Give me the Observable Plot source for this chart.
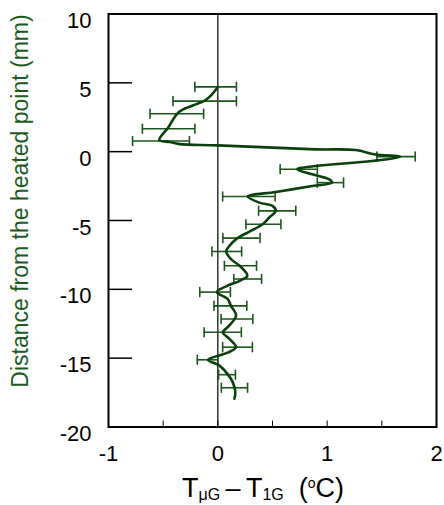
<!DOCTYPE html>
<html>
<head>
<meta charset="utf-8">
<script src="https://cdn.jsdelivr.net/npm/d3@7"></script>
<script src="https://cdn.jsdelivr.net/npm/@observablehq/plot@0.6"></script>
<style>
  html, body { margin: 0; padding: 0; background: white; }
</style>
</head>
<body>
<div id="chart"></div>
<script>
// Profile curve (x: temperature difference in °C, y: distance in mm)
const lineX = [0.0, -0.105, -0.318, -0.373, -0.455, -0.536, -0.44, -0.35, 0.0, 0.895, 1.26, 1.44, 1.667, 1.41, 0.895, 0.727, 0.864, 1.015, 1.045, 0.864, 0.53, 0.273, 0.38, 0.5, 0.53, 0.47, 0.41, 0.29, 0.18, 0.106, 0.076, 0.12, 0.2, 0.27, 0.2, 0.076, -0.01, 0.09, 0.12, 0.167, 0.09, 0.045, 0.106, 0.167, 0.09, -0.09, 0.015, 0.088, 0.136, 0.16, 0.152];
const lineY = [4.7, 3.79, 3.07, 2.75, 1.74, 0.84, 0.70, 0.55, 0.46, 0.17, 0.12, -0.2, -0.36, -0.68, -1.04, -1.28, -1.64, -2.0, -2.25, -2.49, -2.93, -3.26, -3.7, -3.94, -4.3, -4.78, -5.27, -5.8, -6.28, -6.84, -7.25, -7.8, -8.29, -9.01, -9.38, -9.78, -10.2, -10.7, -11.2, -11.9, -12.75, -13.12, -13.6, -14.2, -14.6, -15.12, -15.54, -16.14, -16.74, -17.46, -17.95];

// Error bars: position, centre, half-width
const errY = [4.71, 3.67, 2.75, 1.67, 0.77, -0.36, -1.28, -2.25, -3.26, -4.30, -5.27, -6.28, -7.25, -8.29, -9.25, -10.2, -11.2, -12.15, -13.12, -14.2, -15.12, -16.2, -17.15];
const errX = [-0.02, -0.12, -0.375, -0.45, -0.52, 1.63, 0.74, 1.03, 0.284, 0.543, 0.417, 0.216, 0.082, 0.207, 0.273, -0.025, 0.115, 0.175, 0.045, 0.18, -0.094, 0.084, 0.152];
const errE = [0.19, 0.29, 0.245, 0.24, 0.26, 0.175, 0.17, 0.12, 0.24, 0.17, 0.16, 0.17, 0.136, 0.147, 0.127, 0.14, 0.15, 0.145, 0.17, 0.136, 0.094, 0.077, 0.12];

// Axis ticks
const xTickLabels = [-1, 0, 1, 2];
const xMinorTicks = [-0.5, 0, 0.5, 1, 1.5];
const yTicks = [10, 5, 0, -5, -10, -15, -20];
const yTitle = "Distance from the heated point (mm)";

const lineData = lineX.map((x, i) => ({x, y: lineY[i]}));
const errData = errY.map((y, i) => ({y, x: errX[i], e: errE[i]}));

const lineColor = "#0b3f0b";
const barColor = "#1d561d";
const fmt = d => String(d);

const cap = {draw(context, l) { context.moveTo(0, 0); context.lineTo(0, -l); }};

const plot = Plot.plot({
  width: 444,
  height: 505,
  marginLeft: 108,
  marginRight: 8,
  marginTop: 13.5,
  marginBottom: 78.5,
  x: {domain: [-1, 2]},
  y: {domain: [-20, 10]},
  style: {fontFamily: "'Liberation Sans', Arial, sans-serif", fontSize: "22px", color: "black", background: "white"},
  marks: [
    Plot.ruleX([0], {stroke: "black", strokeWidth: 1.2}),
    Plot.axisY({ticks: yTicks, tickSize: -24, fill: "none", strokeWidth: 1.5}),
    Plot.axisY({ticks: yTicks, tickSize: 0, tickPadding: 17, dy: 7, label: null, fill: "black", tickFormat: fmt}),
    Plot.axisX({ticks: xMinorTicks, tickSize: -6, fill: "none", strokeWidth: 1}),
    Plot.axisX({ticks: xTickLabels, tickSize: 0, tickPadding: 18, label: null, fill: "black", tickFormat: fmt}),
    Plot.ruleY(errData, {y: "y", x1: d => d.x - d.e, x2: d => d.x + d.e, stroke: barColor, strokeWidth: 1.6}),
    Plot.vector(errData, {x: d => d.x - d.e, y: "y", length: 9, rotate: 0, anchor: "middle", shape: cap, stroke: barColor, strokeWidth: 1.6}),
    Plot.vector(errData, {x: d => d.x + d.e, y: "y", length: 9, rotate: 0, anchor: "middle", shape: cap, stroke: barColor, strokeWidth: 1.6}),
    Plot.line(lineData, {x: "x", y: "y", curve: "catmull-rom", stroke: lineColor, strokeWidth: 2.6}),
    Plot.frame({stroke: "black", strokeWidth: 2})
  ]
});

document.getElementById("chart").appendChild(plot);

// Axis titles (with sub/superscripts)
const svg = d3.select(plot);
const xs = plot.scale("x");
const ys = plot.scale("y");
const cx = (xs.apply(-1) + xs.apply(2)) / 2 - 9;
const t = svg.append("text")
  .attr("x", cx).attr("y", 496.5)
  .attr("text-anchor", "middle")
  .attr("font-family", "'Liberation Sans', Arial, sans-serif")
  .attr("font-size", 27)
  .attr("fill", "black");
t.append("tspan").text("T");
t.append("tspan").attr("font-size", 16).attr("dy", 3).text("μG");
t.append("tspan").attr("dy", -3).text("\u2009–\u2009T");
t.append("tspan").attr("font-size", 16).attr("dy", 3).text("1G");
t.append("tspan").attr("dy", -3).text("\u00A0\u00A0(");
t.append("tspan").attr("font-size", 14).attr("dy", -9).text("o");
t.append("tspan").attr("dy", 9).text("C)");

const cy = (ys.apply(10) + ys.apply(-20)) / 2 - 19;
svg.append("text")
  .attr("transform", `translate(28,${cy}) rotate(-90)`)
  .attr("text-anchor", "middle")
  .attr("font-family", "'Liberation Sans', Arial, sans-serif")
  .attr("font-size", 23)
  .attr("fill", "#1d5a1d")
  .text(yTitle);
</script>
</body>
</html>
